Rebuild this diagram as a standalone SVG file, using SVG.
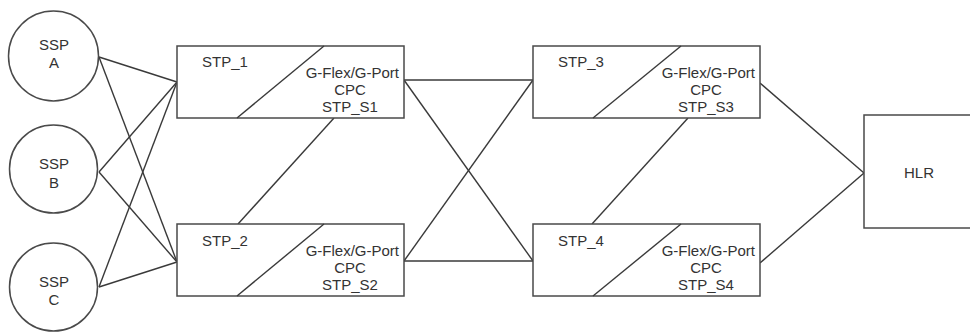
<svg xmlns="http://www.w3.org/2000/svg" width="970" height="332" viewBox="0 0 970 332">
<style>
.s{fill:#fff;stroke:#4a4a4a;stroke-width:1.5}
.l{fill:none;stroke:#3a3a3a;stroke-width:1.4}
text{font-family:"Liberation Sans",Arial,sans-serif;font-size:15px;fill:#333}
.m{text-anchor:middle}
.r{text-anchor:end}
</style>
<rect width="970" height="332" fill="#fff"/>
<g id="connectors">
<line class="l" x1="99" y1="57" x2="177" y2="82"/>
<line class="l" x1="99" y1="57" x2="177" y2="262"/>
<line class="l" x1="99" y1="172" x2="177" y2="82"/>
<line class="l" x1="99" y1="172" x2="177" y2="262"/>
<line class="l" x1="99" y1="287" x2="177" y2="82"/>
<line class="l" x1="99" y1="287" x2="177" y2="262"/>
<line class="l" x1="334" y1="118" x2="238" y2="224"/>
<line class="l" x1="688" y1="118" x2="592" y2="224"/>
<line class="l" x1="404" y1="80" x2="533" y2="80"/>
<line class="l" x1="404" y1="80" x2="533" y2="261"/>
<line class="l" x1="404" y1="261" x2="533" y2="80"/>
<line class="l" x1="404" y1="261" x2="533" y2="261"/>
<line class="l" x1="760" y1="83" x2="864" y2="173"/>
<line class="l" x1="760" y1="263" x2="864" y2="173"/>
</g>
<g id="sspA"><circle class="s" cx="53.5" cy="56" r="45"/><text class="m" x="54" y="50">SSP</text><text class="m" x="54" y="68">A</text></g>
<g id="sspB"><circle class="s" cx="53.5" cy="169" r="44"/><text class="m" x="54" y="169">SSP</text><text class="m" x="54" y="188">B</text></g>
<g id="sspC"><circle class="s" cx="53.5" cy="287" r="44"/><text class="m" x="54" y="287">SSP</text><text class="m" x="54" y="305">C</text></g>
<g id="stp1"><rect class="s" x="177" y="46" width="227" height="72"/><line class="l" x1="237" y1="118" x2="324" y2="46"/>
<text x="202" y="67">STP_1</text><text class="r" x="399" y="78">G-Flex/G-Port</text><text class="m" x="350" y="95">CPC</text><text class="m" x="350" y="112">STP_S1</text></g>
<g id="stp2"><rect class="s" x="177" y="224" width="227" height="72"/><line class="l" x1="237" y1="296" x2="324" y2="224"/>
<text x="202" y="246">STP_2</text><text class="r" x="399" y="256">G-Flex/G-Port</text><text class="m" x="350" y="273">CPC</text><text class="m" x="350" y="290">STP_S2</text></g>
<g id="stp3"><rect class="s" x="533" y="46" width="227" height="72"/><line class="l" x1="593" y1="118" x2="681" y2="46"/>
<text x="558" y="67">STP_3</text><text class="r" x="755" y="78">G-Flex/G-Port</text><text class="m" x="706" y="95">CPC</text><text class="m" x="706" y="112">STP_S3</text></g>
<g id="stp4"><rect class="s" x="533" y="224" width="227" height="72"/><line class="l" x1="593" y1="296" x2="681" y2="224"/>
<text x="558" y="246">STP_4</text><text class="r" x="755" y="256">G-Flex/G-Port</text><text class="m" x="706" y="273">CPC</text><text class="m" x="706" y="290">STP_S4</text></g>
<g id="hlr"><rect class="s" x="864" y="115" width="110" height="113"/><text class="m" x="919" y="178">HLR</text></g>
</svg>
